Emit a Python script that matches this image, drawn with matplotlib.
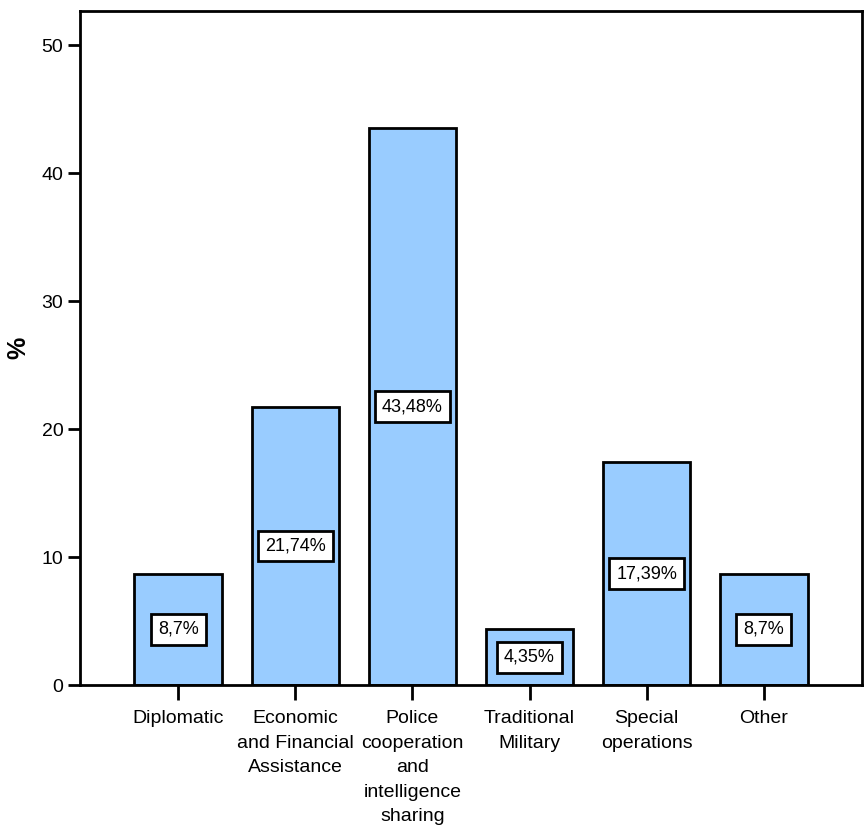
import matplotlib.pyplot as plt
import numpy as np

categories = ["Diplomatic", "Economic\nand Financial\nAssistance", "Police\ncooperation\nand\nintelligence\nsharing",
              "Traditional\nMilitary", "Special\noperations", "Other"]
values = [8.70, 21.74, 43.48, 4.35, 17.39, 8.70]
labels = ["8,7%", "21,74%", "43,48%", "4,35%", "17,39%", "8,7%"]
yticks = [0, 10, 20, 30, 40, 50]

plt.rcParams['font.family'] = ['Liberation Sans', 'DejaVu Sans']

fig = plt.figure(figsize=(8.67, 8.32), dpi=100)
ax = fig.add_axes([80 / 867, 1 - 685 / 832, (862 - 80) / 867, (685 - 11) / 832])

x = np.arange(len(categories))
ax.bar(x, values, width=0.75, color="#99CCFF", edgecolor="black", linewidth=2, zorder=2)

# boxed value labels in the middle of each bar
for xi, v, lab in zip(x, values, labels):
    ax.text(xi, v / 2, lab, ha="center", va="center", fontsize=13, zorder=3,
            bbox=dict(boxstyle="square,pad=0.38", facecolor="white", edgecolor="black", linewidth=2))

ax.set_xlim(-0.84, 5.84)
ax.set_ylim(0, 52.66)
ax.set_xticks(x)
ax.set_xticklabels(categories, fontsize=14, linespacing=1.58)
ax.set_yticks(yticks)
ax.tick_params(axis="y", labelsize=14, length=9, width=2, pad=3)
ax.tick_params(axis="x", length=11, width=2, pad=7)
ax.set_ylabel("%", fontsize=18, fontweight="bold", labelpad=8)

for s in ax.spines.values():
    s.set_linewidth(2)

fig.savefig("out.png", dpi=100)
